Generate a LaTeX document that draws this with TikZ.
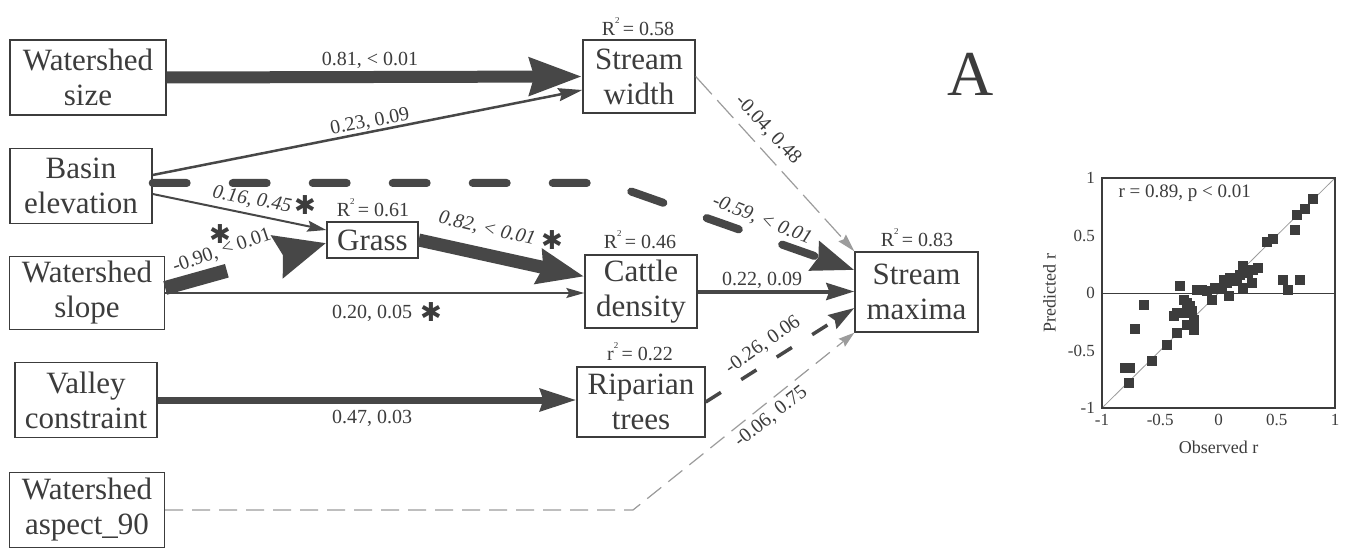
\documentclass[tikz,border=0pt]{standalone}
\usepackage{fontspec}
\setmainfont{Liberation Serif}
\newfontfamily\symfont{DejaVu Sans}
\usetikzlibrary{arrows.meta,calc}
\definecolor{ink}{HTML}{3C3C3C}
\definecolor{edgec}{HTML}{474747}
\definecolor{lightink}{HTML}{9C9C9C}
\newcommand{\rsqlbl}[2]{#1\raisebox{0.6em}{\fontsize{9}{9}\selectfont 2}\,= #2}
\begin{document}
\begin{tikzpicture}[x=1pt,y=-1pt,
  box/.style={draw=ink, line width=1.4pt, text=ink, align=center, inner sep=0pt,
    font=\fontsize{31}{35}\selectfont},
  lab/.style={text=ink, inner sep=0pt, font=\fontsize{20}{22}\selectfont},
  ilab/.style={text=ink, inner sep=0pt, font=\fontsize{20}{22}\selectfont\itshape},
  rsq/.style={text=ink, inner sep=0pt, font=\fontsize{20}{22}\selectfont},
  starmark/.style={text=ink, inner sep=0pt, font=\symfont\bfseries\fontsize{26}{26}\selectfont},
  tick/.style={text=ink, inner sep=0pt, font=\fontsize{17}{18}\selectfont},
  axlab/.style={text=ink, inner sep=0pt, font=\fontsize{18}{20}\selectfont},
  conn/.style={draw=edgec},
  e1/.style={conn, line width=12pt, -{Stealth[length=52pt,width=36pt,inset=4pt]}},
  e2/.style={conn, line width=2.5pt, -{Stealth[length=24pt,width=13pt,inset=3pt]}},
  e3/.style={conn, line width=8pt, line cap=round, dash pattern=on 34pt off 46pt,
    -{Stealth[length=42pt,width=30pt,inset=4pt]}},
  e4/.style={conn, line width=2pt, -{Stealth[length=19pt,width=11pt,inset=3pt]}},
  e5/.style={conn, line width=14pt, dash pattern=on 64pt off 100pt,
    -{Stealth[length=50pt,width=42pt,inset=5pt]}},
  e6/.style={conn, line width=13pt, -{Stealth[length=46pt,width=34pt,inset=4pt]}},
  e7/.style={conn, line width=1.8pt, -{Stealth[length=18pt,width=10pt,inset=3pt]}},
  e8/.style={conn, line width=7pt, -{Stealth[length=36pt,width=22pt,inset=3pt]}},
  e9/.style={draw=lightink, line width=1.2pt, dash pattern=on 18pt off 9pt,
    -{Stealth[length=16pt,width=10pt,inset=2pt]}},
  e10/.style={conn, line width=3.5pt, dash pattern=on 18pt off 24pt,
    -{Stealth[length=26pt,width=16pt,inset=3pt]}},
  e11/.style={draw=lightink, line width=1.2pt, dash pattern=on 24pt off 8pt,
    -{Stealth[length=18pt,width=10pt,inset=2pt]}},
  e12/.style={conn, line width=4pt, -{Stealth[length=28pt,width=17pt,inset=3pt]}}
]
\useasboundingbox[fill=white] (0,0) rectangle (1348,548);

% ---- nodes ----
\node[box, minimum width=156pt, minimum height=75pt] (ws) at (88,77.5) {Watershed\\size};
\node[box, minimum width=142pt, minimum height=75pt] (be) at (81,186) {Basin\\elevation};
\node[box, minimum width=155pt, minimum height=73pt] (sl) at (87,293) {Watershed\\slope};
\node[box, minimum width=142pt, minimum height=75pt] (vc) at (86,400) {Valley\\constraint};
\node[box, minimum width=155pt, minimum height=75pt] (asp) at (87,510) {Watershed\\aspect\_90};
\node[box, minimum width=112pt, minimum height=73pt] (sw) at (639,76.5) {Stream\\width};
\node[box, minimum width=91pt, minimum height=36pt] (gr) at (372.5,240) {Grass};
\node[box, minimum width=112pt, minimum height=73pt] (cd) at (641,291.5) {Cattle\\density};
\node[box, minimum width=128pt, minimum height=70pt] (rt) at (641,402) {Riparian\\trees};
\node[box, minimum width=123pt, minimum height=80pt] (sm) at (916.5,292) {Stream\\maxima};

\node[rsq] (r1) at (638,27) {\rsqlbl{R}{0.58}};
\node[rsq] (r2) at (373,208) {\rsqlbl{R}{0.61}};
\node[rsq] (r3) at (640,240) {\rsqlbl{R}{0.46}};
\node[rsq] (r4) at (640,352) {\rsqlbl{r}{0.22}};
\node[rsq] (r5) at (917,238) {\rsqlbl{R}{0.83}};

\node[text=ink, inner sep=0pt, font=\fontsize{64}{64}\selectfont] (panelA) at (971,74) {A};

% ---- connectors ----
\coordinate (bend1) at (607,183);
\coordinate (bend2) at (633,510);
\draw[e1] (ws.east) -- (sw.west);
\draw[e2] ([yshift=11pt]be.east) -- ([yshift=-13.5pt]sw.west);
\draw[e3] ([yshift=3pt]be.east) -- (bend1) -- ([yshift=22pt]sm.west);
\draw[e4] ([yshift=-8pt]be.east) -- ([yshift=10pt]gr.west);
\draw[e5] ([yshift=5pt]sl.east) -- ([yshift=-3pt]gr.west);
\draw[e6] (gr.east) -- ([yshift=15pt]cd.west);
\draw[e7] (sl.east) -- (sl.east -| cd.west);
\draw[e8] (vc.east) -- (vc.east -| rt.west);
\draw[e9] (asp.east) -- (bend2) -- (sm.south west);
\draw[e10] (rt.east) -- ([yshift=-16pt]sm.west);
\draw[e11] (sw.east) -- (sm.north west);
\draw[e12] (cd.east) -- (cd.east -| sm.west);

% ---- labels ----
\node[lab] (l1) at (370,60) {0.81, < 0.01};
\node[lab, rotate=11] (l2) at (370,122) {0.23, 0.09};
\node[ilab, rotate=-11] (l3) at (252,200) {0.16, 0.45};
\node[starmark] (s3) at (305,205) {✱};
\node[lab, rotate=19] (l4) at (222,251) {-0.90, < 0.01};
\node[starmark] (s4) at (220,234) {✱};
\node[ilab, rotate=-13] (l5) at (487,229) {0.82, < 0.01};
\node[starmark] (s5) at (552,240) {✱};
\node[lab] (l6) at (372,313) {0.20, 0.05};
\node[starmark] (s6) at (431,312) {✱};
\node[lab] (l7) at (372,418) {0.47, 0.03};
\node[lab] (l8) at (762,280) {0.22, 0.09};
\node[lab, rotate=-47] (l9) at (768,130) {-0.04, 0.48};
\node[ilab, rotate=-22] (l10) at (762,220) {-0.59, < 0.01};
\node[lab, rotate=35] (l11) at (763,345) {-0.26, 0.06};
\node[lab, rotate=38] (l12) at (771,417) {-0.06, 0.75};

% ---- scatter plot ----
\begin{scope}[shift={(1218.5,293)}]
\begin{scope}[x=116.5pt,y=115pt]
\draw[lightink, line width=0.8pt] (-1,-1) -- (1,1);
\foreach \px/\py in {0.814/0.817,0.743/0.73,0.671/0.681,0.657/0.551,0.471/0.47,0.414/0.44,
  0.343/0.217,0.3/0.2,0.257/0.174,0.214/0.232,0.186/0.159,0.157/0.13,0.129/0.101,0.1/0.13,
  0.071/0.087,0.043/0.116,0.029/0.043,0.086/-0.029,-0.029/0.043,0.286/0.087,0.214/0.043,
  0.557/0.116,0.6/0.029,0.7/0.11,-0.057/-0.058,-0.1/0.014,-0.143/0.029,-0.186/0.023,
  -0.329/0.058,-0.3/-0.058,-0.243/-0.116,-0.271/-0.174,-0.357/-0.174,-0.386/-0.203,
  -0.214/-0.232,-0.271/-0.275,-0.214/-0.319,-0.357/-0.348,-0.443/-0.449,-0.571/-0.594,
  -0.643/-0.101,-0.714/-0.313,-0.8/-0.652,-0.757/-0.652,-0.771/-0.783,-0.271/-0.087,
  -0.229/-0.159}
  \fill[ink] (\px,\py) ++(-5pt,-5pt) rectangle ++(10pt,10pt);
\draw[ink, line width=1.2pt] (-1,-1) rectangle (1,1);
\draw[ink, line width=1pt] (-1,0) -- (1,0);
\node[tick, anchor=east] (yt1) at (-1.06,1) {1};
\node[tick, anchor=east] (yt2) at (-1.06,0.5) {0.5};
\node[tick, anchor=east] (yt3) at (-1.06,0) {0};
\node[tick, anchor=east] (yt4) at (-1.06,-0.5) {-0.5};
\node[tick, anchor=east] (yt5) at (-1.06,-1) {-1};
\node[tick] (xt1) at (-1,-1.1) {-1};
\node[tick] (xt2) at (-0.5,-1.1) {-0.5};
\node[tick] (xt3) at (0,-1.1) {0};
\node[tick] (xt4) at (0.5,-1.1) {0.5};
\node[tick] (xt5) at (1,-1.1) {1};
\node[axlab] (xlab) at (0,-1.34) {Observed r};
\node[axlab, rotate=90] (ylab) at (-1.45,0) {Predicted r};
\node[tick, font=\fontsize{19}{20}\selectfont] (stat) at (-0.29,0.87) {r = 0.89, p < 0.01};
\end{scope}
\end{scope}
\end{tikzpicture}
\end{document}
